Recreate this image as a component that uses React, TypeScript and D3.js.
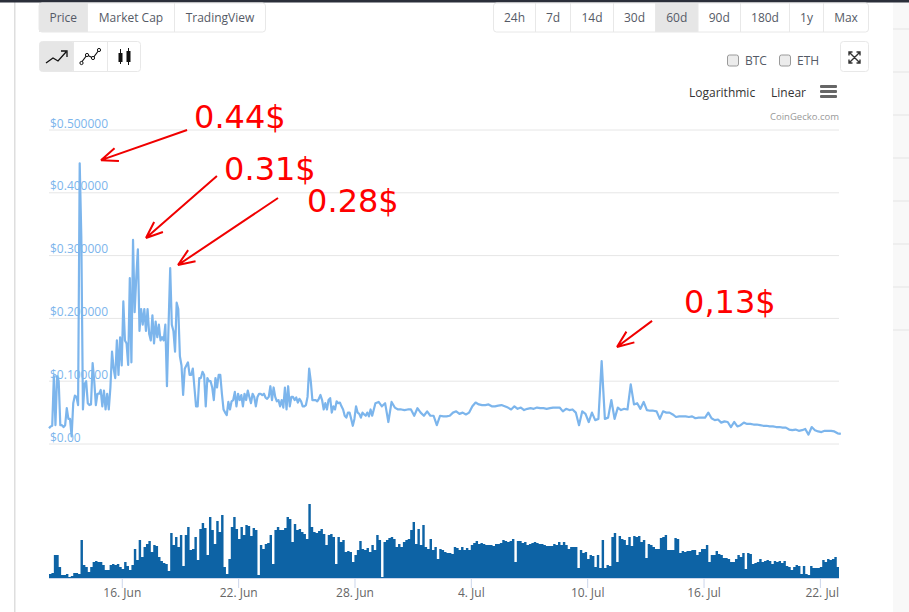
import * as d3 from "d3";

const W = 909;
const H = 612;
const M = { left: 49, right: 839 };
const PRICE_Y = { top: 130, bottom: 444 };
const VOL_Y = { top: 503, bottom: 578 };

const HOUR = 3600000;
const DAY = 24 * HOUR;
const START = Date.UTC(2018, 5, 12, 5, 17);
const END = START + 40.74 * DAY;
const VOL_STEP = 3 * HOUR;

// price in USD, the volatile first stretch read every 2 hours
const priceEarly = [
  0.025, 0.028, 0.029, 0.108, 0.03, 0.108, 0.1, 0.03, 0.03, 0.027,
  0.03, 0.057, 0.04, 0.04, 0.012, 0.065, 0.077, 0.075, 0.062, 0.447,
  0.33, 0.055, 0.095, 0.1, 0.065, 0.062, 0.063, 0.129, 0.1, 0.062,
  0.08, 0.08, 0.086, 0.06, 0.085, 0.055, 0.08, 0.055, 0.09, 0.147,
  0.12, 0.105, 0.165, 0.11, 0.17, 0.125, 0.227, 0.165, 0.16, 0.126,
  0.264, 0.13, 0.325, 0.21, 0.265, 0.31, 0.18, 0.215, 0.19, 0.215,
  0.18, 0.215, 0.175, 0.165, 0.205, 0.16, 0.195, 0.17, 0.19, 0.165,
  0.17, 0.165, 0.19, 0.092, 0.19, 0.28, 0.19, 0.18, 0.147, 0.225,
  0.215, 0.14, 0.125, 0.078, 0.12, 0.125, 0.13, 0.11, 0.11, 0.12,
  0.09, 0.06, 0.06, 0.105, 0.105, 0.115, 0.11, 0.06, 0.105, 0.1,
  0.1, 0.09, 0.07, 0.105, 0.09, 0.11, 0.11, 0.08, 0.055, 0.05,
  0.046, 0.067, 0.055, 0.068, 0.07, 0.083, 0.06, 0.08, 0.07, 0.078,
  0.06, 0.08, 0.07, 0.085, 0.075, 0.065, 0.08, 0.075, 0.06, 0.075,
  0.08, 0.08, 0.078, 0.08, 0.074, 0.072, 0.075, 0.092, 0.07, 0.09,
  0.075, 0.068, 0.07, 0.06, 0.07, 0.058, 0.09, 0.055, 0.092, 0.06,
  0.075, 0.075, 0.07, 0.074, 0.066, 0.072, 0.068, 0.06, 0.06, 0.062,
  0.075, 0.12, 0.1, 0.07, 0.07, 0.07, 0.068, 0.072, 0.078, 0.07,
  0.055, 0.065, 0.055, 0.07, 0.073, 0.05, 0.06, 0.055, 0.068, 0.065,
  0.066, 0.06, 0.055, 0.045, 0.042, 0.05, 0.05, 0.04, 0.029, 0.04,
  0.06, 0.05, 0.048, 0.042, 0.05, 0.047, 0.045, 0.05, 0.044, 0.055,
];

// price in USD, the calmer rest read every 4 hours
const priceLate = [
  0.045, 0.065, 0.067, 0.06, 0.065, 0.035, 0.067, 0.058, 0.055, 0.055,
  0.054, 0.055, 0.055, 0.045, 0.057, 0.05, 0.045, 0.052, 0.045, 0.045,
  0.03, 0.045, 0.044, 0.044, 0.045, 0.05, 0.052, 0.048, 0.05, 0.047,
  0.05, 0.06, 0.066, 0.063, 0.062, 0.062, 0.063, 0.06, 0.06, 0.061,
  0.062, 0.06, 0.058, 0.055, 0.06, 0.056, 0.058, 0.054, 0.056, 0.057,
  0.056, 0.058, 0.057, 0.057, 0.056, 0.057, 0.058, 0.058, 0.058, 0.052,
  0.056, 0.054, 0.055, 0.05, 0.03, 0.052, 0.048, 0.035, 0.05, 0.038,
  0.04, 0.132, 0.04, 0.042, 0.07, 0.04, 0.058, 0.054, 0.056, 0.055,
  0.095, 0.063, 0.065, 0.056, 0.067, 0.054, 0.053, 0.053, 0.052, 0.04,
  0.052, 0.05, 0.05, 0.047, 0.043, 0.044, 0.044, 0.044, 0.043, 0.044,
  0.041, 0.042, 0.042, 0.042, 0.05, 0.041, 0.038, 0.039, 0.034, 0.036,
  0.035, 0.027, 0.035, 0.028, 0.03, 0.034, 0.032, 0.032, 0.031, 0.031,
  0.03, 0.029, 0.029, 0.028, 0.028, 0.027, 0.027, 0.026, 0.026, 0.023,
  0.022, 0.023, 0.021, 0.022, 0.024, 0.015, 0.027, 0.022, 0.02, 0.019,
  0.021, 0.021, 0.021, 0.02, 0.017, 0.016,
];

// traded volume, one bar every 3 hours (arbitrary units)
const volumeValues = [
  4, 5, 23, 23, 11, 3, 3, 4, 1, 2, 5, 5, 4, 38, 13, 11, 6, 11, 16, 17,
  16, 16, 13, 8, 8, 13, 14, 13, 14, 11, 9, 16, 12, 8, 13, 29, 18, 38, 21, 31,
  34, 37, 26, 33, 32, 21, 17, 15, 14, 7, 45, 33, 41, 31, 43, 12, 43, 51, 28, 29,
  41, 18, 49, 55, 50, 23, 61, 48, 34, 57, 46, 63, 11, 4, 19, 51, 61, 49, 39, 51,
  43, 53, 52, 42, 50, 48, 3, 33, 29, 34, 35, 43, 14, 48, 51, 48, 48, 50, 61, 59,
  36, 54, 48, 49, 46, 44, 39, 74, 51, 46, 45, 47, 49, 44, 33, 43, 44, 41, 14, 41,
  36, 38, 26, 27, 26, 16, 23, 28, 37, 29, 28, 30, 26, 33, 28, 43, 38, 1, 36, 38,
  40, 41, 39, 31, 34, 31, 36, 38, 39, 48, 56, 34, 49, 33, 53, 31, 29, 39, 28, 31,
  19, 29, 28, 26, 25, 25, 24, 31, 30, 28, 31, 28, 30, 28, 33, 35, 37, 34, 35, 34,
  33, 33, 33, 32, 34, 34, 35, 38, 37, 36, 37, 39, 16, 37, 37, 35, 36, 33, 34, 35,
  36, 35, 34, 34, 33, 32, 32, 32, 34, 33, 36, 33, 36, 33, 29, 31, 31, 31, 10, 28,
  25, 26, 19, 23, 22, 11, 23, 10, 38, 10, 13, 12, 41, 45, 16, 42, 39, 38, 33, 41,
  32, 42, 41, 42, 36, 38, 20, 34, 33, 31, 29, 29, 40, 41, 43, 28, 28, 28, 40, 39,
  25, 27, 26, 27, 27, 28, 28, 23, 26, 29, 29, 33, 16, 23, 23, 27, 24, 23, 20, 20,
  19, 16, 16, 19, 23, 21, 25, 9, 25, 24, 14, 15, 16, 19, 16, 17, 18, 17, 14, 17,
  16, 17, 15, 17, 12, 11, 8, 11, 13, 12, 4, 12, 4, 3, 12, 10, 10, 10, 11, 18,
  16, 19, 18, 19, 21, 11, 11,
];

const priceTicks = [0, 0.1, 0.2, 0.3, 0.4, 0.5];
const dateTicks = [
  Date.UTC(2018, 5, 16),
  Date.UTC(2018, 5, 22),
  Date.UTC(2018, 5, 28),
  Date.UTC(2018, 6, 4),
  Date.UTC(2018, 6, 10),
  Date.UTC(2018, 6, 16),
  Date.UTC(2018, 6, 22),
];

// hand-drawn red notes, anchored in chart units: days since START, USD
const noteLabels = ["0.44$", "0.31$", "0.28$", "0,13$"];
const noteLabelDays = [7.48, 9.03, 13.31, 32.75];
const noteLabelPrices = [0.503, 0.42, 0.369, 0.2086];
const arrowFromDays = [7.12, 8.66, 11.81, 31.1];
const arrowFromPrices = [0.5, 0.4268, 0.3917, 0.196];
const arrowToDays = [2.68, 5.0, 6.65, 29.29];
const arrowToPrices = [0.452, 0.328, 0.285, 0.1545];

const topLeftTabs = ["Price", "Market Cap", "TradingView"];
const rangeTabs = ["24h", "7d", "14d", "30d", "60d", "90d", "180d", "1y", "Max"];

const x = d3.scaleUtc().domain([START, END]).range([M.left, M.right]);
const y = d3.scaleLinear().domain([0, 0.5]).range([PRICE_Y.bottom, PRICE_Y.top]);
const yVol = d3.scaleLinear().domain([0, 75]).range([VOL_Y.bottom, VOL_Y.top]);

const pricePoints: [number, number][] = [
  ...priceEarly.map((v, i): [number, number] => [START + i * 2 * HOUR, v]),
  ...priceLate.map((v, i): [number, number] => [START + (priceEarly.length * 2 + i * 4) * HOUR, v]),
];

const fmtPrice = (v: number) => (v === 0 ? "$0.00" : `$${d3.format(".6f")(v)}`);
const fmtDate = d3.utcFormat("%-d. %b");

const UI_FONT = "'Open Sans', sans-serif";

function ButtonGroup({
  labels,
  edges,
  active,
  top,
  height,
}: {
  labels: string[];
  edges: number[];
  active: number;
  top: number;
  height: number;
}) {
  return (
    <g fontFamily={UI_FONT} fontSize={12} fill="#555a66">
      {labels.map((l, i) => (
        <g key={l}>
          {i === active && (
            <rect x={edges[i]} y={top} width={edges[i + 1] - edges[i]} height={height} fill="#e6e6e6" />
          )}
          <text x={(edges[i] + edges[i + 1]) / 2} y={top + height / 2 + 4.5} textAnchor="middle">
            {l}
          </text>
        </g>
      ))}
      {edges.slice(1, -1).map((e) => (
        <line key={e} x1={e} x2={e} y1={top} y2={top + height} stroke="#e8e8e8" />
      ))}
      <rect
        x={edges[0]}
        y={top}
        width={edges[edges.length - 1] - edges[0]}
        height={height}
        rx={3}
        fill="none"
        stroke="#e8e8e8"
      />
    </g>
  );
}

export default function App() {
  const line = d3
    .line<[number, number]>()
    .x((d) => x(d[0]))
    .y((d) => y(d[1]));

  // one stepped shape, so neighbouring bars leave no seams between them
  const volumeArea = d3
    .area<number>()
    .curve(d3.curveStepAfter)
    .x((_, i) => Math.min(x(START + i * VOL_STEP), M.right))
    .y0(VOL_Y.bottom)
    .y1((d) => yVol(d));

  return (
    <svg
      width={W}
      height={H}
      viewBox={`0 0 ${W} ${H}`}
      style={{ position: "absolute", left: 0, top: 0, background: "#fff" }}
    >
      {/* page chrome */}
      <rect x={893} y={0} width={16} height={H} fill="#f8f8f8" />
      {d3.range(8).map((i) => (
        <line key={i} x1={893} x2={909} y1={29 + i * 43} y2={29 + i * 43} stroke="#e4e4e4" strokeWidth={1} />
      ))}
      <rect x={14} y={0} width={1.5} height={H} fill="#dedede" />
      <rect x={0} y={0} width={W} height={2.5} fill="#2b2f3a" />

      <ButtonGroup labels={topLeftTabs} edges={[39, 87.5, 174.5, 265.5]} active={0} top={3} height={29} />
      <ButtonGroup
        labels={rangeTabs}
        edges={[493.5, 535.5, 570.5, 613.5, 655.5, 698, 740.5, 789.5, 823.5, 868.5]}
        active={4}
        top={3}
        height={29}
      />

      {/* chart type buttons */}
      <rect x={39.5} y={41.5} width={34} height={30} fill="#e6e6e6" rx={3} />
      <rect x={39.5} y={41.5} width={101} height={30} fill="none" stroke="#e8e8e8" rx={3} />
      <line x1={73.5} x2={73.5} y1={41.5} y2={71.5} stroke="#e8e8e8" />
      <line x1={107.5} x2={107.5} y1={41.5} y2={71.5} stroke="#e8e8e8" />
      <path d="M46 63 L53 58 L58 61 L66 52 M61 51 H67 V57" fill="none" stroke="#111" strokeWidth={1.3} />
      <path d="M81 63 L87 55 L93 58 L99 50" fill="none" stroke="#111" strokeWidth={1.2} />
      {[[81.5, 63], [87, 55], [93, 58], [99, 50]].map(([cx, cy]) => (
        <circle key={cx} cx={cx} cy={cy} r={1.6} fill="#fff" stroke="#111" />
      ))}
      <path d="M120.5 49 V64 M128.5 48 V65" stroke="#111" strokeWidth={1} />
      <rect x={118.5} y={53} width={4} height={9} fill="#111" />
      <rect x={126.5} y={51} width={4} height={11} fill="#111" />

      {/* comparison + expand */}
      <g fontFamily={UI_FONT} fontSize={12} fill="#555a66">
        <rect x={727.5} y={55} width={11} height={11} rx={2} fill="#ececec" stroke="#9a9a9a" />
        <text x={745} y={65}>BTC</text>
        <rect x={779.5} y={55} width={11} height={11} rx={2} fill="#ececec" stroke="#9a9a9a" />
        <text x={797} y={65}>ETH</text>
      </g>
      <rect x={840.5} y={41.5} width={28} height={30} rx={3} fill="#fff" stroke="#e8e8e8" />
      <path
        d="M849 52 L860 63 M860 52 L849 63 M849 55.5 V52 H852.5 M856.5 52 H860 V55.5 M860 59.5 V63 H856.5 M852.5 63 H849 V59.5"
        fill="none"
        stroke="#333"
        strokeWidth={1.4}
      />

      {/* range selector + context menu */}
      <g fontFamily={UI_FONT} fontSize={12} fill="#333">
        <text x={689} y={97}>Logarithmic</text>
        <text x={771} y={97}>Linear</text>
      </g>
      {[85, 90, 95].map((t) => (
        <rect key={t} x={820} y={t} width={17} height={3} rx={1} fill="#666" />
      ))}
      <text x={839} y={120} textAnchor="end" fontFamily={UI_FONT} fontSize={9.5} fill="#999">
        CoinGecko.com
      </text>

      {/* price grid */}
      {priceTicks.map((t) => (
        <g key={t}>
          <line x1={M.left} x2={M.right} y1={y(t)} y2={y(t)} stroke="#e6e6e6" />
          <text x={50} y={y(t) - 2.5} fontFamily={UI_FONT} fontSize={12} fill="#7cb5ec">
            {fmtPrice(t)}
          </text>
        </g>
      ))}

      {/* price line */}
      <path d={line(pricePoints) ?? ""} fill="none" stroke="#7cb5ec" strokeWidth={2.2} strokeLinejoin="round" />

      {/* volume */}
      <path d={volumeArea(volumeValues) ?? ""} fill="#0d63a5" />

      {/* date axis */}
      <line x1={M.left} x2={M.right} y1={578.5} y2={578.5} stroke="#ccd6eb" />
      {dateTicks.map((t, i) => {
        const px = x(t);
        const last = i === dateTicks.length - 1;
        return (
          <g key={t}>
            <line x1={px} x2={px} y1={578} y2={588} stroke="#ccd6eb" />
            <text
              x={last ? M.right : px}
              y={597}
              textAnchor={last ? "end" : "middle"}
              fontFamily={UI_FONT}
              fontSize={12}
              fill="#666"
            >
              {fmtDate(new Date(t))}
            </text>
          </g>
        );
      })}

      {/* red annotations */}
      {noteLabels.map((label, i) => {
        const x0 = x(START + arrowFromDays[i] * DAY);
        const y0 = y(arrowFromPrices[i]);
        const x1 = x(START + arrowToDays[i] * DAY);
        const y1 = y(arrowToPrices[i]);
        const a = Math.atan2(y0 - y1, x0 - x1);
        const len = 18;
        const wing = (d: number) => `L${x1 + len * Math.cos(a + d)} ${y1 + len * Math.sin(a + d)}`;
        return (
          <g key={label}>
            <path
              d={`M${x0} ${y0}L${x1} ${y1}${wing(0.38)}M${x1} ${y1}${wing(-0.38)}`}
              fill="none"
              stroke="#f00000"
              strokeWidth={2}
            />
            <text
              x={x(START + noteLabelDays[i] * DAY)}
              y={y(noteLabelPrices[i])}
              fontFamily="'DejaVu Sans', sans-serif"
              fontSize={32}
              fill="#ff0000"
            >
              {label}
            </text>
          </g>
        );
      })}
    </svg>
  );
}
